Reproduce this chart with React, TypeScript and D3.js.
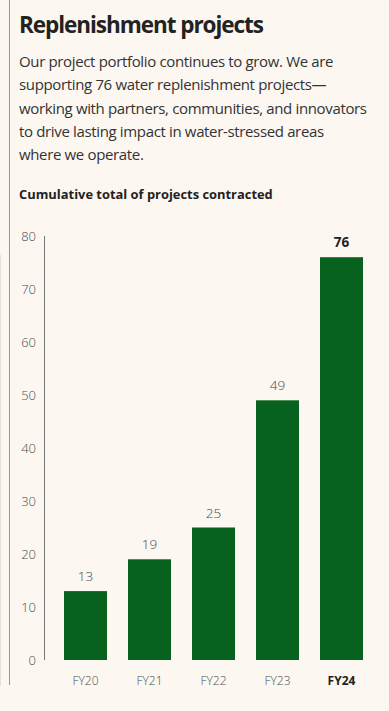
import React from "react";
import * as d3 from "d3";

const years = ["FY20", "FY21", "FY22", "FY23", "FY24"];
const projects = [13, 19, 25, 49, 76];
const yTicks = [0, 10, 20, 30, 40, 50, 60, 70, 80];
const titleText = "Replenishment projects";
const introLines = [
  "Our project portfolio continues to grow. We are",
  "supporting 76 water replenishment projects—",
  "working with partners, communities, and innovators",
  "to drive lasting impact in water-stressed areas",
  "where we operate.",
];
const chartTitle = "Cumulative total of projects contracted";

const W = 389;
const H = 711;
const FONT = "'Open Sans', 'Noto Sans', sans-serif";
const BG = "#fcf7f1";
const GREEN = "#08621f";

export default function App() {
  const x = d3
    .scaleBand<string>()
    .domain(years)
    .range([44, 383])
    .paddingInner(0.328)
    .paddingOuter(0.3125);
  const y = d3.scaleLinear().domain([0, 80]).range([660, 236]);
  const last = years[years.length - 1];

  return (
    <svg
      width={W}
      height={H}
      style={{ position: "absolute", left: 0, top: 0, display: "block" }}
      fontFamily={FONT}
    >
      <rect width={W} height={H} fill={BG} />
      <line x1={0.5} x2={0.5} y1={255} y2={686} stroke="#e6e1d8" strokeWidth={1} />
      <line x1={9.5} x2={9.5} y1={0} y2={685} stroke="#9a9590" strokeWidth={1} />

      <text x={19} y={33} fontSize={22.5} fontWeight={700} fill="#222" letterSpacing={-1.05}>
        {titleText}
      </text>
      {introLines.map((l, i) => (
        <text key={i} x={19} y={67 + i * 23.3} fontSize={15} fill="#333" letterSpacing={-0.35}>
          {l}
        </text>
      ))}
      <text x={19} y={199} fontSize={12.9} fontWeight={700} fill="#222">
        {chartTitle}
      </text>

      {/* y axis */}
      <line x1={44.5} x2={44.5} y1={y(80)} y2={y(0)} stroke="#777" strokeWidth={1} />
      {yTicks.map((t) => (
        <text
          key={t}
          x={36}
          y={y(t)}
          dy="0.35em"
          textAnchor="end"
          fontSize={13}
          fontWeight={300}
          fill="#4d4d4d"
        >
          {t}
        </text>
      ))}

      {/* bars */}
      {years.map((c, i) => {
        const v = projects[i];
        const bold = c === last;
        const cx = (x(c) ?? 0) + x.bandwidth() / 2;
        return (
          <g key={c}>
            <rect
              x={x(c)}
              y={y(v)}
              width={x.bandwidth()}
              height={y(0) - y(v)}
              fill={GREEN}
            />
            <text
              x={cx}
              y={y(v) - 10}
              textAnchor="middle"
              fontSize={13.5}
              fontWeight={bold ? 700 : 300}
              fill={bold ? "#222" : "#444"}
            >
              {v}
            </text>
            <text
              x={cx}
              y={681}
              dy="0.35em"
              textAnchor="middle"
              fontSize={12}
              fontWeight={bold ? 700 : 300}
              fill={bold ? "#222" : "#4d4d4d"}
            >
              {c}
            </text>
          </g>
        );
      })}
    </svg>
  );
}
